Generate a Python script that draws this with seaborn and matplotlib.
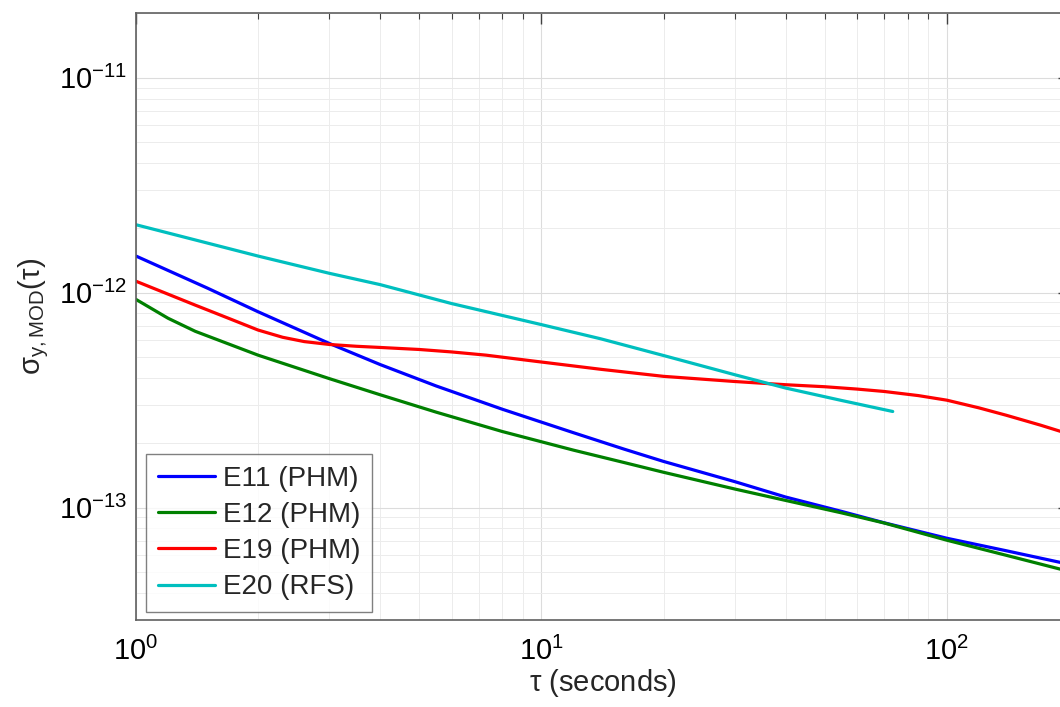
import numpy as np
import pandas as pd
import matplotlib
matplotlib.use("Agg")
import matplotlib.pyplot as plt
import seaborn as sns

# --Data (tau in seconds, modified Allan deviation)--
tau_e11 = [1, 1.5, 2, 3, 4, 5.5, 8, 12, 16, 20, 30, 40, 55, 70, 100, 140, 200]
sig_e11 = [1.48e-12, 1.05e-12, 8.15e-13, 5.8e-13, 4.63e-13, 3.68e-13, 2.87e-13, 2.23e-13,
           1.87e-13, 1.64e-13, 1.32e-13, 1.12e-13, 9.6e-14, 8.5e-14, 7.2e-14, 6.3e-14, 5.45e-14]

tau_e12 = [1, 1.2, 1.4, 2, 3, 4, 5.5, 8, 12, 16, 20, 30, 40, 55, 70, 100, 140, 200]
sig_e12 = [9.3e-13, 7.6e-13, 6.61e-13, 5.12e-13, 3.98e-13, 3.35e-13, 2.78e-13, 2.26e-13,
           1.85e-13, 1.62e-13, 1.46e-13, 1.22e-13, 1.08e-13, 9.45e-14, 8.48e-14, 7.05e-14,
           6.0e-14, 5.05e-14]

tau_e19 = [1, 1.4, 1.7, 2, 2.3, 2.6, 3, 3.5, 4, 5, 6, 7.3, 9.7, 14, 20, 30, 40, 50, 60,
           70, 85, 100, 120, 140, 170, 200]
sig_e19 = [1.13e-12, 8.75e-13, 7.57e-13, 6.7e-13, 6.2e-13, 5.92e-13, 5.74e-13, 5.63e-13,
           5.56e-13, 5.44e-13, 5.3e-13, 5.12e-13, 4.79e-13, 4.4e-13, 4.08e-13, 3.86e-13,
           3.73e-13, 3.65e-13, 3.56e-13, 3.47e-13, 3.32e-13, 3.16e-13, 2.91e-13, 2.69e-13,
           2.42e-13, 2.2e-13]

tau_e20 = [1, 2, 3, 4, 6, 10, 14, 20, 30, 40, 55, 73.5]
sig_e20 = [2.07e-12, 1.48e-12, 1.23e-12, 1.09e-12, 8.9e-13, 7.1e-13, 6.1e-13, 5.1e-13,
           4.15e-13, 3.6e-13, 3.15e-13, 2.8e-13]

labels = ['E11 (PHM)', 'E12 (PHM)', 'E19 (PHM)', 'E20 (RFS)']
colors = [(0, 0, 1), (0, 0.5, 0), (1, 0, 0), (0, 0.75, 0.75)]
x_major = [1, 10, 100]
y_major = [1e-13, 1e-12, 1e-11]

# -Long table for seaborn
frames = []
for lab, t, s in zip(labels, [tau_e11, tau_e12, tau_e19, tau_e20],
                     [sig_e11, sig_e12, sig_e19, sig_e20]):
    frames.append(pd.DataFrame({'tau': t, 'sigma': s, 'device': lab}))
data = pd.concat(frames, ignore_index=True)

# --Style--
sns.set_style('white')
plt.rcParams['font.family'] = ['Liberation Sans', 'DejaVu Sans']
plt.rcParams['mathtext.fontset'] = 'custom'
plt.rcParams['mathtext.rm'] = 'Liberation Sans'
plt.rcParams['mathtext.it'] = 'Liberation Sans:italic'
plt.rcParams['mathtext.bf'] = 'Liberation Sans:bold'
plt.rcParams['axes.unicode_minus'] = False

fig = plt.figure(figsize=(10.6, 7.07), dpi=100)
ax = fig.add_axes([136 / 1060, 87 / 707, 933 / 1060, 607 / 707])

sns.lineplot(data=data, x='tau', y='sigma', hue='device', palette=colors,
             estimator=None, sort=True, linewidth=2.3, ax=ax)

ax.set_xscale('log')
ax.set_yscale('log')
ax.set_xticks(x_major)
ax.set_yticks(y_major)
ax.set_xlim(1, 200)
ax.set_ylim(3e-14, 2e-11)

# -MATLAB-like grid and ticks
ax.grid(True, which='major', color='#dcdcdc', linewidth=0.8)
ax.grid(True, which='minor', color='#ececec', linewidth=0.7)
ax.set_axisbelow(True)
ax.tick_params(which='both', direction='in', top=True, right=True, colors='#404040',
               labelcolor='black', labelsize=21)
ax.tick_params(which='major', length=8, width=1)
ax.tick_params(which='minor', length=4, width=0.8)
ax.tick_params(axis='x', which='major', pad=12)
ax.tick_params(axis='y', which='major', pad=6)
for sp in ax.spines.values():
    sp.set_color('#606060')
    sp.set_linewidth(1.2)

ax.set_xlabel(r'$\mathrm{\tau}$ (seconds)', fontsize=21, labelpad=1)
ax.set_ylabel(r'$\mathrm{\sigma_{y,MOD}(\tau)}$', fontsize=21, labelpad=6)

handles, labs = ax.get_legend_handles_labels()
leg = ax.legend(handles, labs, loc='lower left', bbox_to_anchor=(0.0107, 0.013),
                fontsize=20, frameon=True, fancybox=False, edgecolor='#606060',
                handlelength=2.05, handletextpad=0.3, labelspacing=0.37,
                borderpad=0.42, borderaxespad=0)
leg.get_frame().set_linewidth(1.0)

fig.savefig('out.png', dpi=100)
